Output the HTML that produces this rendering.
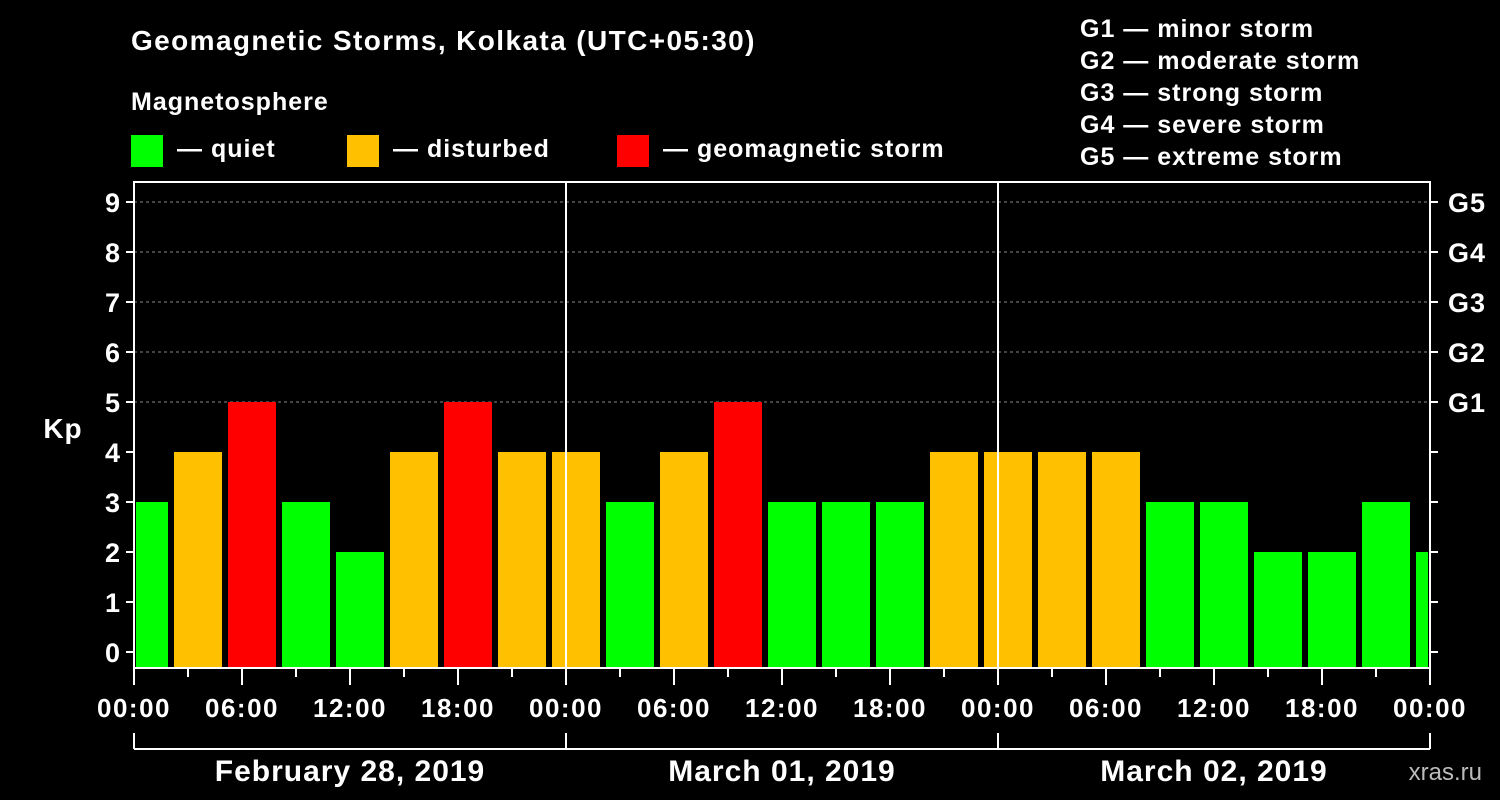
<!DOCTYPE html>
<html><head><meta charset="utf-8"><style>
body{margin:0;background:#000;}
svg{display:block;font-family:"Liberation Sans",Arial,sans-serif;font-weight:bold;}
</style></head><body>
<svg id="chart" width="1500" height="800" viewBox="0 0 1500 800">
<rect width="1500" height="800" fill="#000"/>
<text x="131" y="50" fill="#fff" font-size="28" letter-spacing="1.4">Geomagnetic Storms, Kolkata (UTC+05:30)</text>
<text x="131" y="110" fill="#fff" font-size="25" letter-spacing="1">Magnetosphere</text>
<g font-size="25" letter-spacing="1">
<rect x="131" y="135" width="32" height="32" fill="#00ff00"/>
<text x="177" y="157" fill="#fff">— quiet</text>
<rect x="347" y="135" width="32" height="32" fill="#ffc000"/>
<text x="393" y="157" fill="#fff">— disturbed</text>
<rect x="617" y="135" width="32" height="32" fill="#ff0000"/>
<text x="663" y="157" fill="#fff">— geomagnetic storm</text>
</g>
<g fill="#fff" font-size="25" letter-spacing="1">
<text x="1080" y="37">G1 — minor storm</text>
<text x="1080" y="69">G2 — moderate storm</text>
<text x="1080" y="101">G3 — strong storm</text>
<text x="1080" y="133">G4 — severe storm</text>
<text x="1080" y="165">G5 — extreme storm</text>
</g>
<text x="63" y="438" fill="#fff" font-size="28" letter-spacing="1" text-anchor="middle">Kp</text>
<text x="1482" y="780" fill="#bbb" font-size="24" font-weight="normal" text-anchor="end">xras.ru</text>
<g id="grid"></g><g id="bars"></g><g id="axes"></g>
</svg>
<script>
const kpValues=[3,4,5,3,2,4,5,4,4,3,4,5,3,3,3,4,4,4,4,3,3,2,2,3,2];
const yTicks=[0,1,2,3,4,5,6,7,8,9];
const gLabels=["G1","G2","G3","G4","G5"];
const gLevels=[5,6,7,8,9];
const xTickLabels=["00:00","06:00","12:00","18:00","00:00","06:00","12:00","18:00","00:00","06:00","12:00","18:00","00:00"];
const dayLabels=["February 28, 2019","March 01, 2019","March 02, 2019"];
const NS="http://www.w3.org/2000/svg";
const L=134,R=1430,T=182,B=668;
const hourPx=(R-L)/72;
const y=v=>652-v*50;
const x=h=>L+h*hourPx;
const firstSlotHour=37/18-3;
function mk(t,a,p){const e=document.createElementNS(NS,t);for(const k in a)e.setAttribute(k,a[k]);p.appendChild(e);return e;}
const grid=document.getElementById('grid'),bars=document.getElementById('bars'),axes=document.getElementById('axes');
gLevels.forEach(v=>{const l=mk('line',{x1:L,x2:R,y1:y(v),y2:y(v),stroke:'#888','stroke-dasharray':'3,3','stroke-width':1},grid);
});
const color=v=>v>=5?'#ff0000':(v>=4?'#ffc000':'#00ff00');
kpValues.forEach((v,i)=>{
 const h0=firstSlotHour+i*3;
 let x0=x(h0)+3,x1=x(h0+3)-3;
 x0=Math.max(x0,L+2);x1=Math.min(x1,R-2);
 const r=mk('rect',{x:x0,y:y(v),width:x1-x0,height:B-y(v),fill:color(v)},bars);
 
});
[1,2].forEach(d=>{const l=mk('line',{x1:x(d*24),x2:x(d*24),y1:T,y2:B,stroke:'#fff','stroke-width':2},axes);
});
const fr=mk('rect',{x:L,y:T,width:R-L,height:B-T,fill:'none',stroke:'#fff','stroke-width':2},axes);

yTicks.forEach(v=>{
 mk('line',{x1:L-8,x2:L,y1:y(v),y2:y(v),stroke:'#fff','stroke-width':2},axes);
 mk('line',{x1:R,x2:R+8,y1:y(v),y2:y(v),stroke:'#fff','stroke-width':2},axes);
 const t=mk('text',{x:L-14,y:y(v)+10,fill:'#fff','font-size':27,'text-anchor':'end'},axes);t.textContent=v;
 
});
gLevels.forEach((v,i)=>{const t=mk('text',{x:R+18,y:y(v)+10,fill:'#fff','font-size':27,'letter-spacing':1},axes);t.textContent=gLabels[i];
 });
for(let h=0;h<=72;h+=3){mk('line',{x1:x(h),x2:x(h),y1:B,y2:B+(h%6==0?17:9),stroke:'#fff','stroke-width':2},axes);}
xTickLabels.forEach((s,i)=>{const t=mk('text',{x:x(i*6),y:717,fill:'#fff','font-size':26,'letter-spacing':1.5,'text-anchor':'middle'},axes);t.textContent=s;
 });
mk('line',{x1:L,x2:R,y1:749,y2:749,stroke:'#fff','stroke-width':2},axes);
for(let d=0;d<=3;d++)mk('line',{x1:x(d*24),x2:x(d*24),y1:733,y2:749,stroke:'#fff','stroke-width':2},axes);
dayLabels.forEach((s,i)=>{const t=mk('text',{x:x(i*24+12),y:781,fill:'#fff','font-size':30,'letter-spacing':1,'text-anchor':'middle'},axes);t.textContent=s;
 });
</script>
</body></html>
